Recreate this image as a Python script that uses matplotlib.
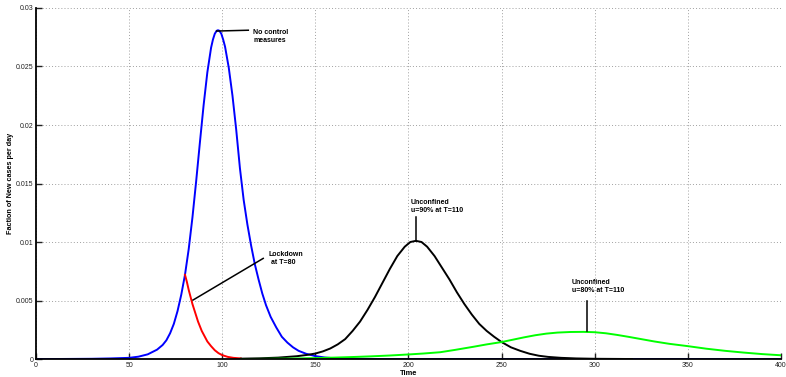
import matplotlib
matplotlib.use("Agg")
import matplotlib.pyplot as plt

# 无控制措施 (blue)
t_blue = [0, 10, 20, 30, 40, 50, 55, 60, 65, 68, 70, 72, 74, 76, 78, 80, 82, 84, 86, 88,
          90, 92, 94, 95, 96, 97, 97.7, 98.5, 99.5, 100.5, 101.5, 103.5, 105.5, 107.5, 109.5,
          111.5, 113.5, 115.5, 117.5, 119.5, 121.5, 123.5, 126, 129, 132, 135, 138, 141, 145,
          150, 155, 160, 170, 185, 400]
y_blue = [0, 0, 0.00001, 0.00002, 0.00005, 0.0001, 0.0002, 0.0004, 0.0008, 0.0012, 0.0016,
          0.0022, 0.0030, 0.0041, 0.0055, 0.0072, 0.0094, 0.0121, 0.0152, 0.0185,
          0.0217, 0.0245, 0.0266, 0.0273, 0.0278, 0.02805, 0.0281, 0.02805, 0.0278, 0.0273,
          0.0267, 0.0249, 0.0225, 0.0196, 0.0163,
          0.0136, 0.0115, 0.0097, 0.0081, 0.0068, 0.0056, 0.0046, 0.0036, 0.0027, 0.0019,
          0.0014, 0.0010, 0.0007, 0.00045,
          0.00025, 0.00013, 0.00007, 0.00002, 0, 0]

# 封锁 T=80 (red)
t_red = [80, 81, 82, 83, 84, 85, 86, 87, 88, 89, 90, 92, 94, 96, 98, 100, 103, 106, 110]
y_red = [0.0072, 0.0066, 0.0059, 0.0053, 0.0047, 0.0042, 0.0037, 0.0032, 0.0028, 0.0024,
         0.0021, 0.0015, 0.0011, 0.00075, 0.0005, 0.00033, 0.00018, 0.0001, 0.00005]

# u=90% (black)
t_black = [110, 120, 130, 140, 146, 150, 154, 158, 162, 166, 170, 174, 178, 182, 186, 190,
           194, 198, 201, 204, 207, 210, 214, 218, 222, 226, 230, 234, 238, 242, 246, 250,
           255, 260, 265, 270, 275, 282, 290, 300, 320]
y_black = [0.00003, 0.00006, 0.00012, 0.00024, 0.00036, 0.00047, 0.00065, 0.0009, 0.00125,
           0.0017, 0.0024, 0.0032, 0.0042, 0.0053, 0.0065, 0.0077,
           0.0088, 0.0096, 0.0100, 0.0101, 0.0100, 0.0096, 0.0088, 0.0078, 0.0068, 0.0057,
           0.0047, 0.0038, 0.0030, 0.0024, 0.0019, 0.00145,
           0.0010, 0.0007, 0.00045, 0.00028, 0.00018, 0.0001, 0.00005, 0.00002, 0]

# u=80% (green)
t_green = [110, 120, 130, 140, 150, 160, 170, 180, 190, 200, 208, 217, 225, 235, 242, 250,
           256, 262, 268, 274, 280, 287, 294, 300, 306, 312, 318, 325, 332, 340, 350, 360,
           370, 380, 390, 400]
y_green = [0, 0.00001, 0.00003, 0.00005, 0.00008, 0.00012, 0.00017, 0.00023, 0.0003,
           0.00039, 0.00047, 0.00058, 0.00078, 0.00105, 0.00125, 0.00145,
           0.00165, 0.00185, 0.00203, 0.00217, 0.00226, 0.00231, 0.00232, 0.00229, 0.0022,
           0.00206, 0.0019, 0.0017, 0.0015, 0.0013, 0.0011, 0.00088,
           0.0007, 0.00055, 0.00042, 0.00032]

x_ticks = [0, 50, 100, 150, 200, 250, 300, 350, 400]
y_ticks = [0, 0.005, 0.01, 0.015, 0.02, 0.025, 0.03]
y_tick_labels = ["0", "0.005", "0.01", "0.015", "0.02", "0.025", "0.03"]

plt.rcParams['font.family'] = ['Liberation Sans', 'DejaVu Sans']

fig = plt.figure(figsize=(7.86, 3.77), dpi=100)
ax = fig.add_axes([0.0458, 0.0477, 0.9478, 0.9311])

lw = 1.4
ax.plot(t_blue, y_blue, color='#0000ff', lw=lw)
ax.plot(t_red, y_red, color='#ff0000', lw=lw)
ax.plot(t_black, y_black, color='black', lw=lw)
ax.plot(t_green, y_green, color='#00ff00', lw=lw)

ax.set_xlim(0, 400)
ax.set_ylim(0, 0.03)
ax.set_xticks(x_ticks)
ax.set_yticks(y_ticks)
ax.set_yticklabels(y_tick_labels)
ax.tick_params(direction='in', length=4, width=1, labelsize=5, colors='#222222', pad=2)
ax.grid(True, linestyle=(0, (1, 2.2)), color='#a0a0a0', lw=0.7)
ax.spines['top'].set_visible(False)
ax.spines['right'].set_visible(False)
for s in ['left', 'bottom']:
    ax.spines[s].set_linewidth(1.3)

ax.set_xlabel('Time', fontsize=5.4, fontweight='bold')
ax.set_ylabel('Faction of New cases per day', fontsize=5.2, fontweight='bold')
ax.xaxis.set_label_coords(0.5, -0.031)
ax.yaxis.set_label_coords(-0.029, 0.5)

# 注释
fs = 5
ax.plot([97.0, 114.0], [0.02803, 0.0281], color='black', lw=1.1)
ax.text(116.7, 0.0276, 'No control\nmeasures', fontsize=fs, fontweight='bold', va='center')

ax.plot([84.3, 122.0], [0.00504, 0.0086], color='black', lw=1.1)
ax.text(125.1, 0.00857, 'Lockdown\n at T=80', fontsize=fs, fontweight='bold', va='center')

ax.plot([204, 204], [0.01009, 0.01216], color='black', lw=1.1)
ax.text(201.3, 0.0130, 'Unconfined\nu=90% at T=110', fontsize=fs, fontweight='bold', va='center')

ax.plot([296, 296], [0.00239, 0.00496], color='black', lw=1.1)
ax.text(287.6, 0.00621, 'Unconfined\nu=80% at T=110', fontsize=fs, fontweight='bold', va='center')

plt.savefig('out.png', dpi=100)
plt.close()
